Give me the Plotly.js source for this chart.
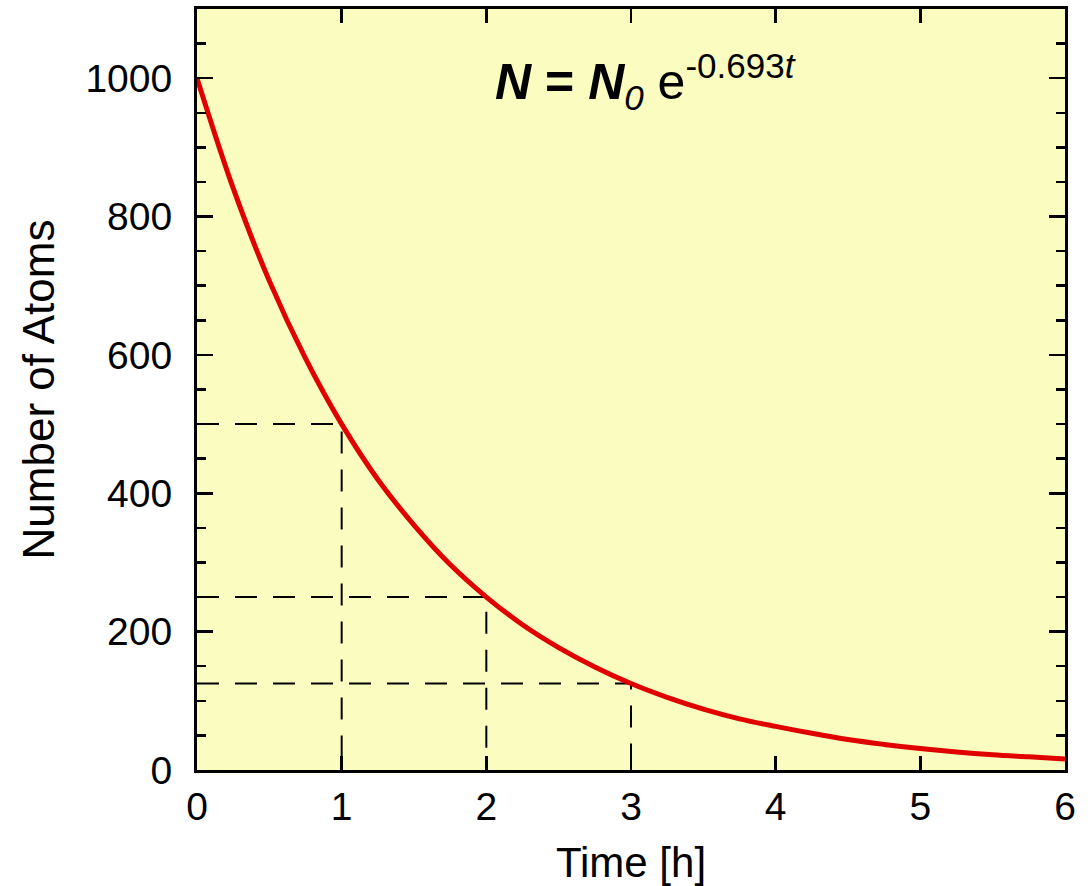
<!DOCTYPE html>
<html>
<head>
<meta charset="utf-8">
<script src="https://cdn.plot.ly/plotly-3.0.1.min.js"></script>
<style>
html,body{margin:0;padding:0;background:#fff;}
#chart{width:1088px;height:886px;}
</style>
</head>
<body>
<div id="chart"></div>
<script>
// Decay curve values
const timeH = [0, 0.25, 0.5, 0.75, 1, 1.25, 1.5, 1.75, 2, 2.25, 2.5, 2.75, 3, 3.25, 3.5, 3.75, 4, 4.25, 4.5, 4.75, 5, 5.25, 5.5, 5.75, 6];
const atoms = [1000, 841, 707, 595, 500, 420, 354, 297, 250, 210, 177, 149, 125, 105, 88, 74, 63, 53, 44, 37, 31, 26, 22, 19, 16];

// Half-life guide lines
const guideT = [1, 2, 3];
const guideN = [500, 250, 125];

// Axis ticks
const xTicks = [0, 1, 2, 3, 4, 5, 6];
const yTicks = [0, 200, 400, 600, 800, 1000];

const traces = [];
guideT.forEach((t, i) => {
  traces.push({
    x: [0, t, t],
    y: [guideN[i], guideN[i], 0],
    mode: 'lines',
    line: {color: '#000', width: 2, dash: '22px,16px'},
    hoverinfo: 'skip',
    showlegend: false
  });
});
traces.push({
  x: timeH,
  y: atoms,
  mode: 'lines',
  line: {color: '#e00000', width: 5, shape: 'spline', smoothing: 1},
  showlegend: false
});

const fontFam = 'Liberation Sans, Arial, Helvetica, sans-serif';

const layout = {
  width: 1088,
  height: 886,
  margin: {l: 197, r: 23, t: 9, b: 116},
  paper_bgcolor: '#ffffff',
  plot_bgcolor: '#fafcc0',
  font: {family: fontFam, color: '#000'},
  xaxis: {
    range: [0, 6],
    tickvals: xTicks,
    ticktext: xTicks.map(String),
    ticks: 'inside',
    ticklen: 14,
    tickwidth: 2.5,
    tickcolor: '#000',
    showline: true,
    linewidth: 3,
    linecolor: '#000',
    mirror: 'ticks',
    showgrid: false,
    zeroline: false,
    tickfont: {size: 39, family: fontFam},
    ticklabelstandoff: 0,
    title: {text: 'Time [h]', font: {size: 42, family: fontFam}, standoff: 22}
  },
  yaxis: {
    range: [0, 1100],
    tickvals: yTicks,
    ticktext: yTicks.map(String),
    ticks: 'inside',
    ticklen: 16,
    tickwidth: 2.5,
    tickcolor: '#000',
    minor: {dtick: 50, ticks: 'inside', ticklen: 9, tickwidth: 2.5, tickcolor: '#000', showgrid: false},
    showline: true,
    linewidth: 3,
    linecolor: '#000',
    mirror: 'ticks',
    showgrid: false,
    zeroline: false,
    tickfont: {size: 39, family: fontFam},
    ticklabelstandoff: 14,
    title: {text: 'Number of Atoms', font: {size: 44, family: fontFam}, standoff: 18}
  },
  annotations: [{
    xref: 'paper', yref: 'paper',
    x: 0.517, y: 0.905,
    xanchor: 'center', yanchor: 'middle',
    showarrow: false,
    text: '<b><i>N</i></b> <b>=</b> <b><i>N</i></b><sub><i>0</i></sub> e<sup>-0.693<i>t</i></sup>',
    font: {size: 50, family: fontFam, color: '#000'}
  }]
};

Plotly.newPlot('chart', traces, layout, {displayModeBar: false, staticPlot: true});
</script>
</body>
</html>
